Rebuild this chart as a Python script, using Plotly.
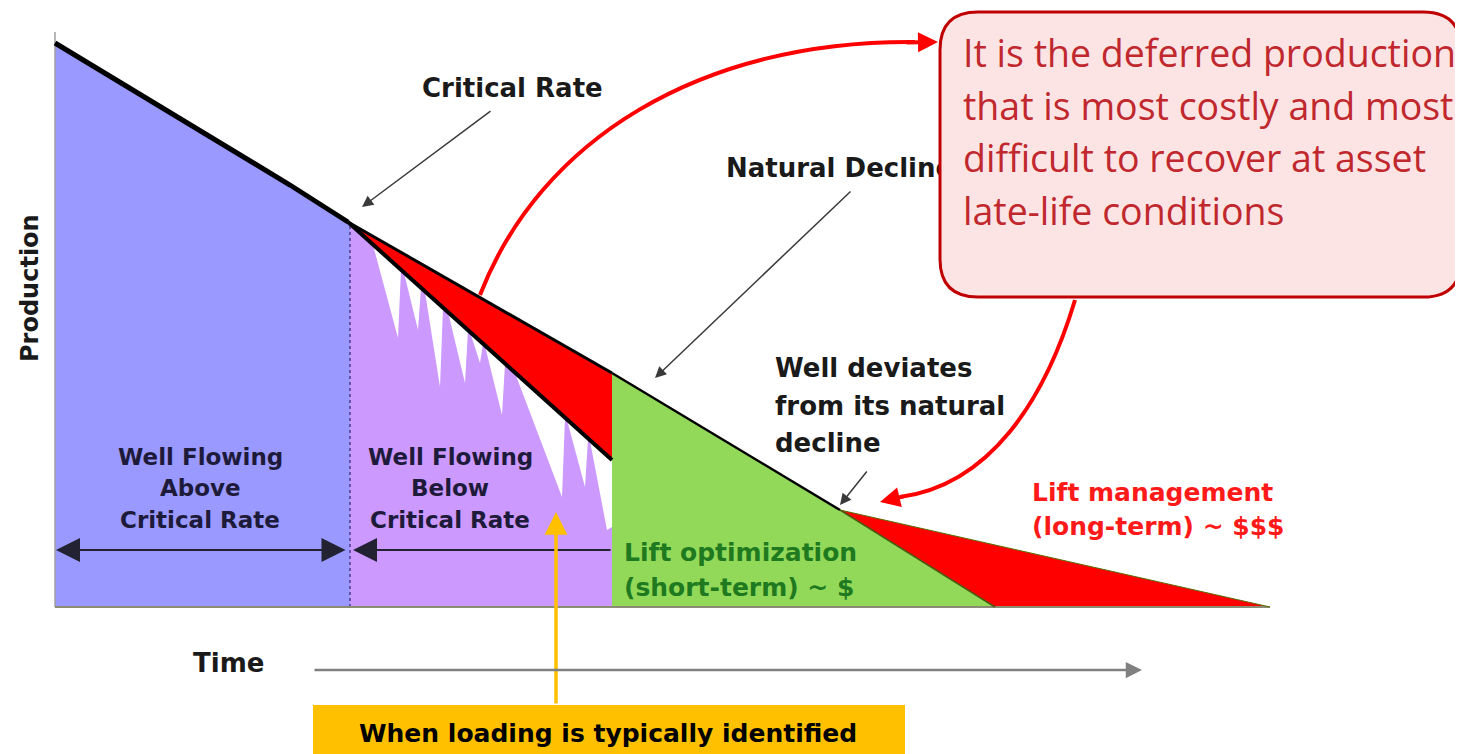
import plotly.graph_objects as go

# ---------------- data (time units, production units) ----------------
early_time = [0, 235, 293]
early_prod = [564, 422, 385]
natural_time = [293, 557, 785, 1215]
natural_prod = [385, 234, 97, 0]
below_time = [293, 557]
below_prod = [385, 147]
deviated_time = [785, 940]
deviated_prod = [97, 0]
loading_time = [295, 318, 343, 346, 349, 363, 366, 370, 385, 388, 393, 410, 413,
                415, 425, 428, 430, 447, 450, 460, 507, 510, 512, 530, 533, 535, 552, 557]
loading_prod = [383, 362, 269, 337, 334, 277, 319, 315, 220, 299, 295, 224, 277,
                275, 244, 263, 261, 192, 243, 234, 110, 189, 187, 120, 168, 166, 77, 80]
critical_time = 295
optimization_end = 557

BLUE = "#9999ff"
PURPLE = "#cc99ff"
GREEN = "#92d95a"
RED = "#ff0000"
DARK = "#1a1a1a"


def X(px):
    return px - 55


def Y(py):
    return 607 - py


def P(px, py):
    return f"{X(px)},{Y(py)}"


fig = go.Figure()


def poly(xs, ys, color):
    fig.add_trace(go.Scatter(x=xs, y=ys, fill="toself", fillcolor=color, mode="lines",
                             line=dict(width=0, color=color), hoverinfo="skip"))


def line(xs, ys, color, width, dash=None):
    fig.add_trace(go.Scatter(x=xs, y=ys, mode="lines",
                             line=dict(color=color, width=width, dash=dash), hoverinfo="skip"))


# regions
poly([0] + early_time + [critical_time, critical_time], [0] + early_prod + [384, 0], BLUE)
poly([critical_time] + loading_time + [optimization_end], [0] + loading_prod + [0], PURPLE)
poly(natural_time[:2] + below_time[::-1], natural_prod[:2] + below_prod[::-1], RED)
poly([optimization_end] + natural_time[1:3] + deviated_time[1:],
     [0] + natural_prod[1:3] + deviated_prod[1:], GREEN)
poly(natural_time[2:] + deviated_time[1:], natural_prod[2:] + deviated_prod[1:], RED)

# dotted critical-time divider
line([critical_time, critical_time], [0, 384], "#4a3c8c", 1.5, "dot")

# axes lines
line([0, 0], [0, 575], "#a0a0a0", 1.5)
line([0, natural_time[-1]], [0, 0], "#8c8c74", 2)

# profile lines
line(early_time, early_prod, "black", 5)
line(natural_time[:2], natural_prod[:2], "black", 3)
line(below_time, below_prod, "black", 4)
line(natural_time[1:3], natural_prod[1:3], "black", 2.5)
line(natural_time[2:], natural_prod[2:], "#5a6b00", 1)
line(deviated_time, deviated_prod, "#4a5a10", 1.5)

FONT = "DejaVu Sans"

# "Natural Decline" as trace text so the call-out box hides its tail
fig.add_trace(go.Scatter(x=[X(726)], y=[Y(170)], mode="text", text=["Natural Decline"],
                         textposition="middle right",
                         textfont=dict(family=FONT, size=26, color=DARK, weight="bold"),
                         hoverinfo="skip"))

shapes = []
# red curved arrows
shapes.append(dict(type="path", xref="x", yref="y", layer="above",
                   path=f"M {P(480,295)} C {P(540,140)} {P(700,40)} {P(915,42)}",
                   line=dict(color=RED, width=4)))
shapes.append(dict(type="path", xref="x", yref="y", layer="above",
                   path=f"M {P(1075,300)} C {P(1045,400)} {P(990,485)} {P(900,497)}",
                   line=dict(color=RED, width=4)))
# rounded callout box
x0, x1, y0, y1, r = 940, 1461, 12, 297, 38
box = (f"M {P(x0+r,y0)} L {P(x1-r,y0)} Q {P(x1,y0)} {P(x1,y0+r)} L {P(x1,y1-r)} "
       f"Q {P(x1,y1)} {P(x1-r,y1)} L {P(x0+r,y1)} Q {P(x0,y1)} {P(x0,y1-r)} "
       f"L {P(x0,y0+r)} Q {P(x0,y0)} {P(x0+r,y0)} Z")
shapes.append(dict(type="path", xref="x", yref="y", layer="above", path=box,
                   fillcolor="#fde4e4", line=dict(color="#c00000", width=3)))
# yellow label box
shapes.append(dict(type="rect", xref="x", yref="y", layer="above",
                   x0=X(313), x1=X(905), y0=Y(705), y1=Y(770),
                   fillcolor="#ffc000", line=dict(width=0)))

ann = []


def text(s, px, py, size, color=DARK, anchor="center", family=FONT, bold=True, angle=0):
    ann.append(dict(x=X(px), y=Y(py), xref="x", yref="y", text=s, showarrow=False,
                    xanchor=anchor, yanchor="middle", textangle=angle,
                    font=dict(family=family, size=size, color=color,
                              weight="bold" if bold else "normal")))


def arrow(hx, hy, tx, ty, color, width, size, side="end"):
    ann.append(dict(x=X(hx), y=Y(hy), ax=X(tx), ay=Y(ty), xref="x", yref="y",
                    axref="x", ayref="y", text="", showarrow=True, arrowhead=2,
                    arrowside=side, arrowsize=size, arrowwidth=width, arrowcolor=color))


text("Critical Rate", 512, 88, 26)
for s, py in [("Well deviates", 368), ("from its natural", 406), ("decline", 443)]:
    text(s, 773, py, 26, anchor="left")
text("Lift management", 1030, 492, 25, color="#ff1a1a", anchor="left")
text("(long-term) ~ $$$", 1030, 526, 25, color="#ff1a1a", anchor="left")
text("Lift optimization", 622, 552, 25, color="#1f7a1f", anchor="left")
text("(short-term) ~ $", 622, 587, 25, color="#1f7a1f", anchor="left")
for cx, mid in [(200, "Above"), (450, "Below")]:
    text("Well Flowing", cx, 457, 23, color="#1e1b3a")
    text(mid, cx, 488, 23, color="#1e1b3a")
    text("Critical Rate", cx, 520, 23, color="#1e1b3a")
text("Time", 228, 663, 26)
text("Production", 30, 288, 24, angle=-90)
text("When loading is typically identified", 608, 733, 25, color="black")

for s, py in [("It is the deferred production", 52), ("that is most costly and most", 105),
              ("difficult to recover at asset", 157), ("late-life conditions", 210)]:
    text(s, 961, py, 37.5, color="#c0282e", anchor="left", family="Open Sans", bold=False)

# arrows
arrow(362, 207, 492, 110, "#3a3a3a", 1.5, 1.5)
arrow(655, 378, 852, 190, "#3a3a3a", 1.5, 1.5)
arrow(840, 505, 868, 470, "#3a3a3a", 1.5, 1.5)
arrow(56, 550, 347, 550, "#222233", 2, 2.4, side="end+start")
arrow(353, 550, 612, 550, "#222233", 2, 2.4)
arrow(556, 512, 556, 705, "#ffc000", 3.5, 1.3)
arrow(1142, 670, 313, 670, "#808080", 2.5, 1.3)
arrow(938, 42, 905, 42.5, RED, 4, 1)
arrow(880, 502, 905, 496, RED, 4, 1)

# the page body adds an 8 px margin, so the visible window is offset by 8 px
fig.update_layout(width=1463, height=754, autosize=False,
                  margin=dict(l=0, r=0, t=0, b=0),
                  paper_bgcolor="white", plot_bgcolor="white", showlegend=False,
                  xaxis=dict(range=[-47, 1416], visible=False, fixedrange=True),
                  yaxis=dict(range=[-155, 599], visible=False, fixedrange=True),
                  shapes=shapes, annotations=ann)

fig.write_html("out.html")
